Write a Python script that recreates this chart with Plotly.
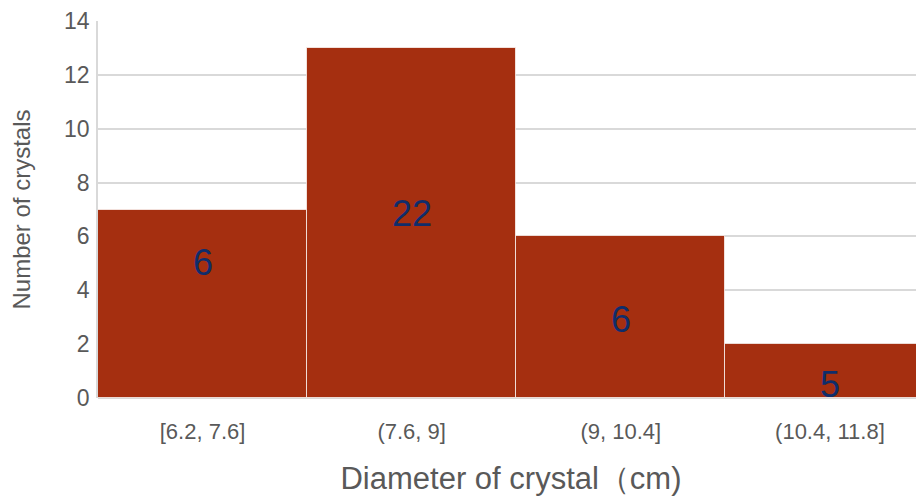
import plotly.graph_objects as go

categories = ["[6.2, 7.6]", "(7.6, 9]", "(9, 10.4]", "(10.4, 11.8]"]
counts = [7, 13, 6, 2]
label_texts = ["6", "22", "6", "5"]
label_y = [5.05, 6.85, 2.9, 0.5]

fig = go.Figure()
fig.add_trace(go.Bar(
    x=list(range(len(categories))), y=counts, width=1.0,
    marker=dict(color="#A52F10", line=dict(color="rgba(255,255,255,0.7)", width=1)),
    hoverinfo="skip",
))
for i, (t, yy) in enumerate(zip(label_texts, label_y)):
    fig.add_annotation(x=i, y=yy, text=t, showarrow=False,
                       font=dict(family="Liberation Sans, Arial", size=36, color="#0F2D6B"))

fig.update_layout(
    width=916, height=488,
    margin=dict(l=90, r=0, t=13, b=98),
    paper_bgcolor="white", plot_bgcolor="white",
    showlegend=False, bargap=0,
    font=dict(family="Liberation Sans, Arial", color="#595959"),
    xaxis=dict(
        tickmode="array", tickvals=list(range(len(categories))), ticktext=categories,
        range=[-0.5, 3.45], showgrid=False, zeroline=False, automargin=False,
        showline=False, ticks="", tickfont=dict(size=22, color="#595959"),
        ticklabelstandoff=18,
        title=dict(text="Diameter of crystal（cm)", font=dict(size=31, color="#595959"), standoff=32),
    ),
    yaxis=dict(
        range=[0, 14], dtick=2, showgrid=True, gridcolor="#D9D9D9", gridwidth=1.5,
        zeroline=True, zerolinecolor="#D9D9D9", zerolinewidth=1.5, automargin=False,
        showline=True, linecolor="#D9D9D9", linewidth=1.5,
        ticks="", tickfont=dict(size=23, color="#595959"),
        ticklabelstandoff=2,
        title=dict(text="Number of crystals", font=dict(size=24, color="#595959"), standoff=27),
    ),
)
fig.write_html("out.html")
